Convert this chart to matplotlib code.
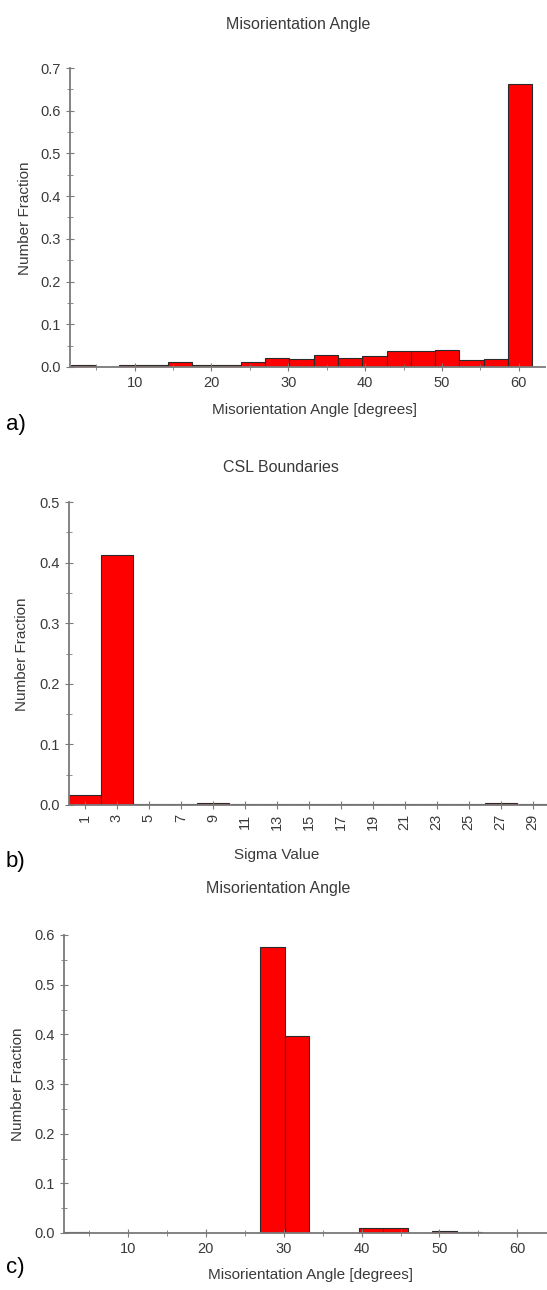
import numpy as np
import matplotlib
matplotlib.use("Agg")
import matplotlib.pyplot as plt
from matplotlib.ticker import MultipleLocator

plt.rcParams['font.family'] = ['Liberation Sans', 'DejaVu Sans']

# a) misorientation angle distribution, 19 bins
frac_a = [0.005, 0.0, 0.004, 0.004, 0.012, 0.004, 0.004, 0.011, 0.022, 0.019,
          0.029, 0.021, 0.026, 0.037, 0.037, 0.040, 0.017, 0.019, 0.662]

# b) CSL boundaries
sigma = ['1', '3', '5', '7', '9', '11', '13', '15', '17', '19', '21', '23', '25', '27', '29']
frac_b = [0.016, 0.413, 0.001, 0.001, 0.004, 0.001, 0.001, 0.001, 0.001, 0.001,
          0.001, 0.001, 0.001, 0.004, 0.002]

# c) misorientation angle distribution, second sample
frac_c = [0.002, 0.0, 0.0, 0.0, 0.0, 0.0, 0.0, 0.0, 0.576, 0.397,
          0.001, 0.0, 0.010, 0.010, 0.0, 0.005, 0.002, 0.0, 0.0]

bin_start = 1.7
bin_width = 3.16

W, H = 547, 1290
fig = plt.figure(figsize=(W / 100, H / 100), dpi=100)
txt = '#3a3a3a'
spine_c = '#7a7a7a'


def px_axes(left, right, top, bottom):
    return fig.add_axes([left / W, 1 - bottom / H, (right - left) / W, (bottom - top) / H])


def style(ax):
    for s in ['top', 'right']:
        ax.spines[s].set_visible(False)
    for s in ['left', 'bottom']:
        ax.spines[s].set_color(spine_c)
        ax.spines[s].set_linewidth(1.3)
    ax.tick_params(which='both', direction='inout', colors=spine_c, labelcolor=txt, labelsize=10.5)
    ax.tick_params(which='major', length=6)
    ax.tick_params(which='minor', length=5)
    ax.yaxis.set_minor_locator(MultipleLocator(0.05))


def hist_panel(ax, fracs, xlim, ymax):
    lefts = bin_start + bin_width * np.arange(len(fracs))
    ax.bar(lefts, fracs, width=bin_width, align='edge', color='#ff0000',
           edgecolor='#2a2a2a', linewidth=0.8)
    ax.set_xlim(*xlim)
    ax.set_ylim(0, ymax)
    ax.xaxis.set_major_locator(MultipleLocator(10))
    ax.xaxis.set_minor_locator(MultipleLocator(5))
    ax.yaxis.set_major_locator(MultipleLocator(0.1))
    ax.set_xticks([10, 20, 30, 40, 50, 60])
    ax.yaxis.set_major_formatter(matplotlib.ticker.FormatStrFormatter('%.1f'))
    style(ax)


# panel a
ax1 = px_axes(70, 545, 68, 367)
hist_panel(ax1, frac_a, (1.6, 63.4), 0.7)
fig.text(298 / W, 1 - 25 / H, 'Misorientation Angle', ha='center', va='center', fontsize=11.5, color=txt)
fig.text(315 / W, 1 - 410 / H, 'Misorientation Angle [degrees]', ha='center', va='center', fontsize=11, color=txt)
fig.text(25 / W, 1 - 218 / H, 'Number Fraction', ha='center', va='center', rotation=90, fontsize=11, color=txt)
fig.text(6 / W, 1 - 425 / H, 'a)', ha='left', va='center', fontsize=16, color='black')

# panel b
ax2 = px_axes(69, 547, 502, 805)
ax2.bar(np.arange(len(sigma)), frac_b, width=1.0, color='#ff0000', edgecolor='#2a2a2a', linewidth=0.8)
ax2.set_xlim(-0.5, 14.45)
ax2.set_ylim(0, 0.5)
ax2.set_xticks(np.arange(len(sigma)))
ax2.set_xticklabels(sigma, rotation=90)
ax2.yaxis.set_major_locator(MultipleLocator(0.1))
ax2.yaxis.set_major_formatter(matplotlib.ticker.FormatStrFormatter('%.1f'))
style(ax2)
fig.text(281 / W, 1 - 468 / H, 'CSL Boundaries', ha='center', va='center', fontsize=11.5, color=txt)
fig.text(277 / W, 1 - 855 / H, 'Sigma Value', ha='center', va='center', fontsize=11, color=txt)
fig.text(22 / W, 1 - 654 / H, 'Number Fraction', ha='center', va='center', rotation=90, fontsize=11, color=txt)
fig.text(6 / W, 1 - 862 / H, 'b)', ha='left', va='center', fontsize=16, color='black')

# panel c
ax3 = px_axes(64, 547, 935, 1233)
hist_panel(ax3, frac_c, (1.8, 63.8), 0.6)
fig.text(278 / W, 1 - 888 / H, 'Misorientation Angle', ha='center', va='center', fontsize=11.5, color=txt)
fig.text(310 / W, 1 - 1275 / H, 'Misorientation Angle [degrees]', ha='center', va='center', fontsize=11, color=txt)
fig.text(18 / W, 1 - 1084 / H, 'Number Fraction', ha='center', va='center', rotation=90, fontsize=11, color=txt)
fig.text(6 / W, 1 - 1267 / H, 'c)', ha='left', va='center', fontsize=16, color='black')

fig.savefig('out.png', dpi=100)
